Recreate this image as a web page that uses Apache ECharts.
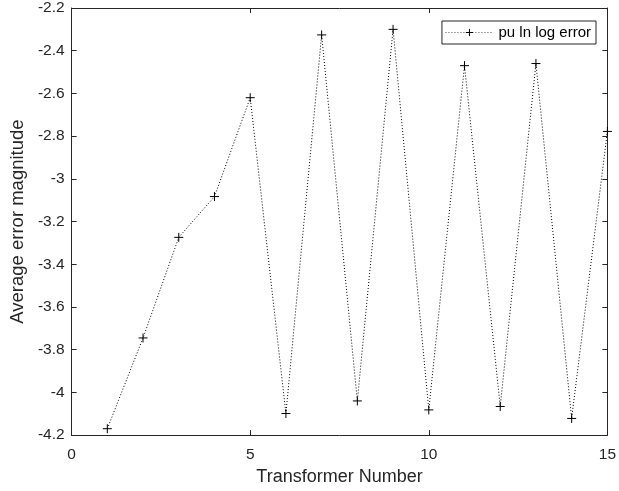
<!DOCTYPE html>
<html>
<head>
<meta charset="utf-8">
<script src="https://cdn.jsdelivr.net/npm/echarts@6/dist/echarts.min.js"></script>
<style>
	html, body { margin: 0; padding: 0; background: #fff; }
	#chart { width: 619px; height: 491px; }
</style>
</head>
<body>
<div id="chart"></div>
<script>
// Datos
const transformadores = [1, 2, 3, 4, 5, 6, 7, 8, 9, 10, 11, 12, 13, 14, 15]
const errorMedio = [-4.17, -3.745, -3.274, -3.083, -2.62, -4.099, -2.326, -4.04, -2.30, -4.082, -2.47, -4.066, -2.46, -4.122, -2.778]
const nombreSerie = 'pu ln log error'

const gris = '#262626'
const fuente = 'Liberation Sans, Arial, Helvetica, sans-serif'

const chart = echarts.init(document.getElementById('chart'))

// eje base con ticks hacia dentro (estilo MATLAB)
function ejeBase(extra) {
	return Object.assign({
		type: 'value',
		axisLine: { show: true, onZero: false, lineStyle: { color: gris, width: 1 } },
		axisTick: { show: true, inside: true, length: 5, lineStyle: { color: gris, width: 1 } },
		splitLine: { show: false },
	}, extra)
}

chart.setOption({
	animation: false,
	textStyle: { fontFamily: fuente },
	grid: { left: 68, right: 9, top: 7, bottom: 55 },
	legend: {
		data: [nombreSerie],
		right: 23,
		top: 21,
		orient: 'vertical',
		itemWidth: 48,
		itemHeight: 9,
		itemGap: 0,
		padding: [4, 5, 4, 3],
		backgroundColor: '#fff',
		borderColor: gris,
		borderWidth: 1,
		borderRadius: 0,
		itemStyle: { borderWidth: 1 },
		lineStyle: { width: 1, color: '#555' },
		textStyle: { fontSize: 15, color: '#000', fontFamily: fuente },
	},
	xAxis: [
		ejeBase({
			min: 0, max: 15, interval: 5,
			position: 'bottom',
			name: 'Transformer Number',
			nameLocation: 'middle',
			nameGap: 32,
			nameTextStyle: { fontSize: 18, color: gris, fontFamily: fuente },
			axisLabel: { fontSize: 15.5, color: gris, margin: 12, fontFamily: fuente },
		}),
		ejeBase({
			min: 0, max: 15, interval: 5,
			position: 'top',
			axisLabel: { show: false },
		}),
	],
	yAxis: [
		ejeBase({
			min: -4.2, max: -2.2, interval: 0.2,
			position: 'left',
			name: 'Average error magnitude',
			nameLocation: 'middle',
			nameGap: 44,
			nameTextStyle: { fontSize: 18.5, color: gris, fontFamily: fuente },
			axisLabel: {
				fontSize: 15.5, color: gris, margin: 7, fontFamily: fuente,
				formatter: (v) => String(+v.toFixed(1)),
			},
		}),
		ejeBase({
			min: -4.2, max: -2.2, interval: 0.2,
			position: 'right',
			axisLabel: { show: false },
		}),
	],
	series: [
		{
			name: nombreSerie,
			type: 'line',
			data: transformadores.map((t, i) => [t, errorMedio[i]]),
			symbol: 'path://M0,5L10,5M5,0L5,10',
			symbolSize: 9,
			showAllSymbol: true,
			lineStyle: { color: '#000', width: 1, type: [1, 2] },
			itemStyle: { color: 'none', borderColor: '#000', borderWidth: 1 },
			emphasis: { disabled: true },
		},
	],
})
</script>
</body>
</html>
